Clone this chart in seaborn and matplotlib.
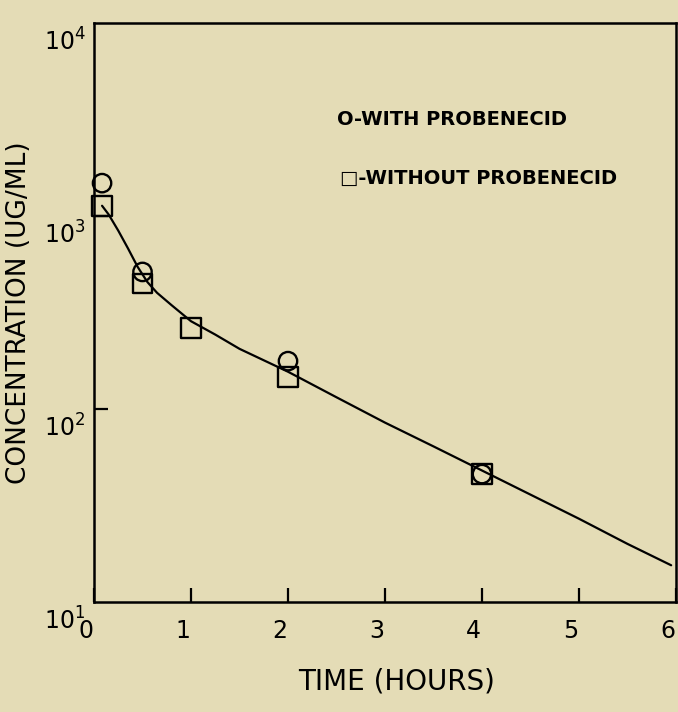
import numpy as np
import pandas as pd
import seaborn as sns
import matplotlib
matplotlib.use('Agg')
from matplotlib import pyplot as plt
from matplotlib.transforms import ScaledTranslation

# measured points (hours, ug/ml)
with_time = [0.083, 0.5, 2.0, 4.0]
with_conc = [1480, 513, 177, 46]
without_time = [0.083, 0.5, 1.0, 2.0, 4.0]
without_conc = [1130, 447, 263, 147, 46]

# fitted curve
fit_time = [0.083, 0.15, 0.25, 0.35, 0.45, 0.55, 0.65, 0.8, 1.0, 1.25, 1.5,
            2.0, 2.5, 3.0, 3.5, 4.0, 4.5, 5.0, 5.5, 5.95]
fit_conc = [1130, 1020, 840, 680, 545, 455, 400, 345, 285, 243, 205,
            156, 115, 85, 64, 48, 36, 27, 20, 15.5]

x_ticks = [0, 1, 2, 3, 4, 5, 6]
y_ticks = [10, 100, 1000, 10000]
y_tick_labels = [r'$\mathregular{10^{1}}$', r'$\mathregular{10^{2}}$',
                 r'$\mathregular{10^{3}}$', r'$\mathregular{10^{4}}$']

bg = '#e4dcb6'

sns.set_style('ticks')
plt.rcParams['font.family'] = ['DejaVu Sans']
plt.rcParams.update({'text.color': 'black', 'axes.labelcolor': 'black',
                     'xtick.color': 'black', 'ytick.color': 'black'})

fig = plt.figure(figsize=(6.78, 7.12), dpi=100, facecolor=bg)
ax = fig.add_axes([94 / 678, 110 / 712, 582 / 678, 579 / 712])
ax.set_facecolor(bg)

fit_df = pd.DataFrame({'t': fit_time, 'c': fit_conc})
sns.lineplot(data=fit_df, x='t', y='c', ax=ax, color='black', lw=1.6, sort=False)

sns.scatterplot(x=with_time, y=with_conc, ax=ax, marker='o', s=175,
                facecolor='none', edgecolor='black', linewidth=1.7, zorder=3, clip_on=False)
sns.scatterplot(x=without_time, y=without_conc, ax=ax, marker='s', s=200,
                facecolor='none', edgecolor='black', linewidth=1.7, zorder=3, clip_on=False)

ax.set_yscale('log')
ax.set_xlim(0, 6)
ax.set_ylim(10, 10000)

ax.set_xticks(x_ticks)
ax.set_xticklabels([str(v) for v in x_ticks], fontsize=17)
ax.set_yticks(y_ticks)
ax.set_yticklabels(y_tick_labels, fontsize=17)
ax.yaxis.set_minor_locator(matplotlib.ticker.NullLocator())
ax.tick_params(axis='both', direction='in', length=10, width=1.6, color='black')
ax.tick_params(axis='x', pad=12)
ax.tick_params(axis='y', pad=6)
# no tick marks on the corners
for i in (0, 3):
    ax.yaxis.get_major_ticks()[i].tick1line.set_visible(False)

# plotter labels sit a bit below / left of their ticks
for lab in ax.get_yticklabels():
    lab.set_transform(lab.get_transform() + ScaledTranslation(0, -12 / 72, fig.dpi_scale_trans))
for lab in ax.get_xticklabels():
    lab.set_transform(lab.get_transform() + ScaledTranslation(-6 / 72, 0, fig.dpi_scale_trans))

for side in ['left', 'right', 'top', 'bottom']:
    ax.spines[side].set_visible(True)
    ax.spines[side].set_color('black')
    ax.spines[side].set_linewidth(1.8)

ax.set_xlabel('TIME (HOURS)', fontsize=20)
ax.xaxis.set_label_coords((397 - 94) / 582, -0.113)
ax.set_ylabel('CONCENTRATION (UG/ML)', fontsize=19)
ax.yaxis.set_label_coords(-0.107, 0.5)

ax.text(0.4175, 0.8325, 'O-WITH PROBENECID', transform=ax.transAxes,
        fontsize=14, fontweight='bold', va='center', ha='left')
ax.text(0.4227, 0.732, '\u25a1-WITHOUT PROBENECID', transform=ax.transAxes,
        fontsize=14, fontweight='bold', va='center', ha='left')

fig.savefig('out.png', dpi=100, facecolor=bg)
